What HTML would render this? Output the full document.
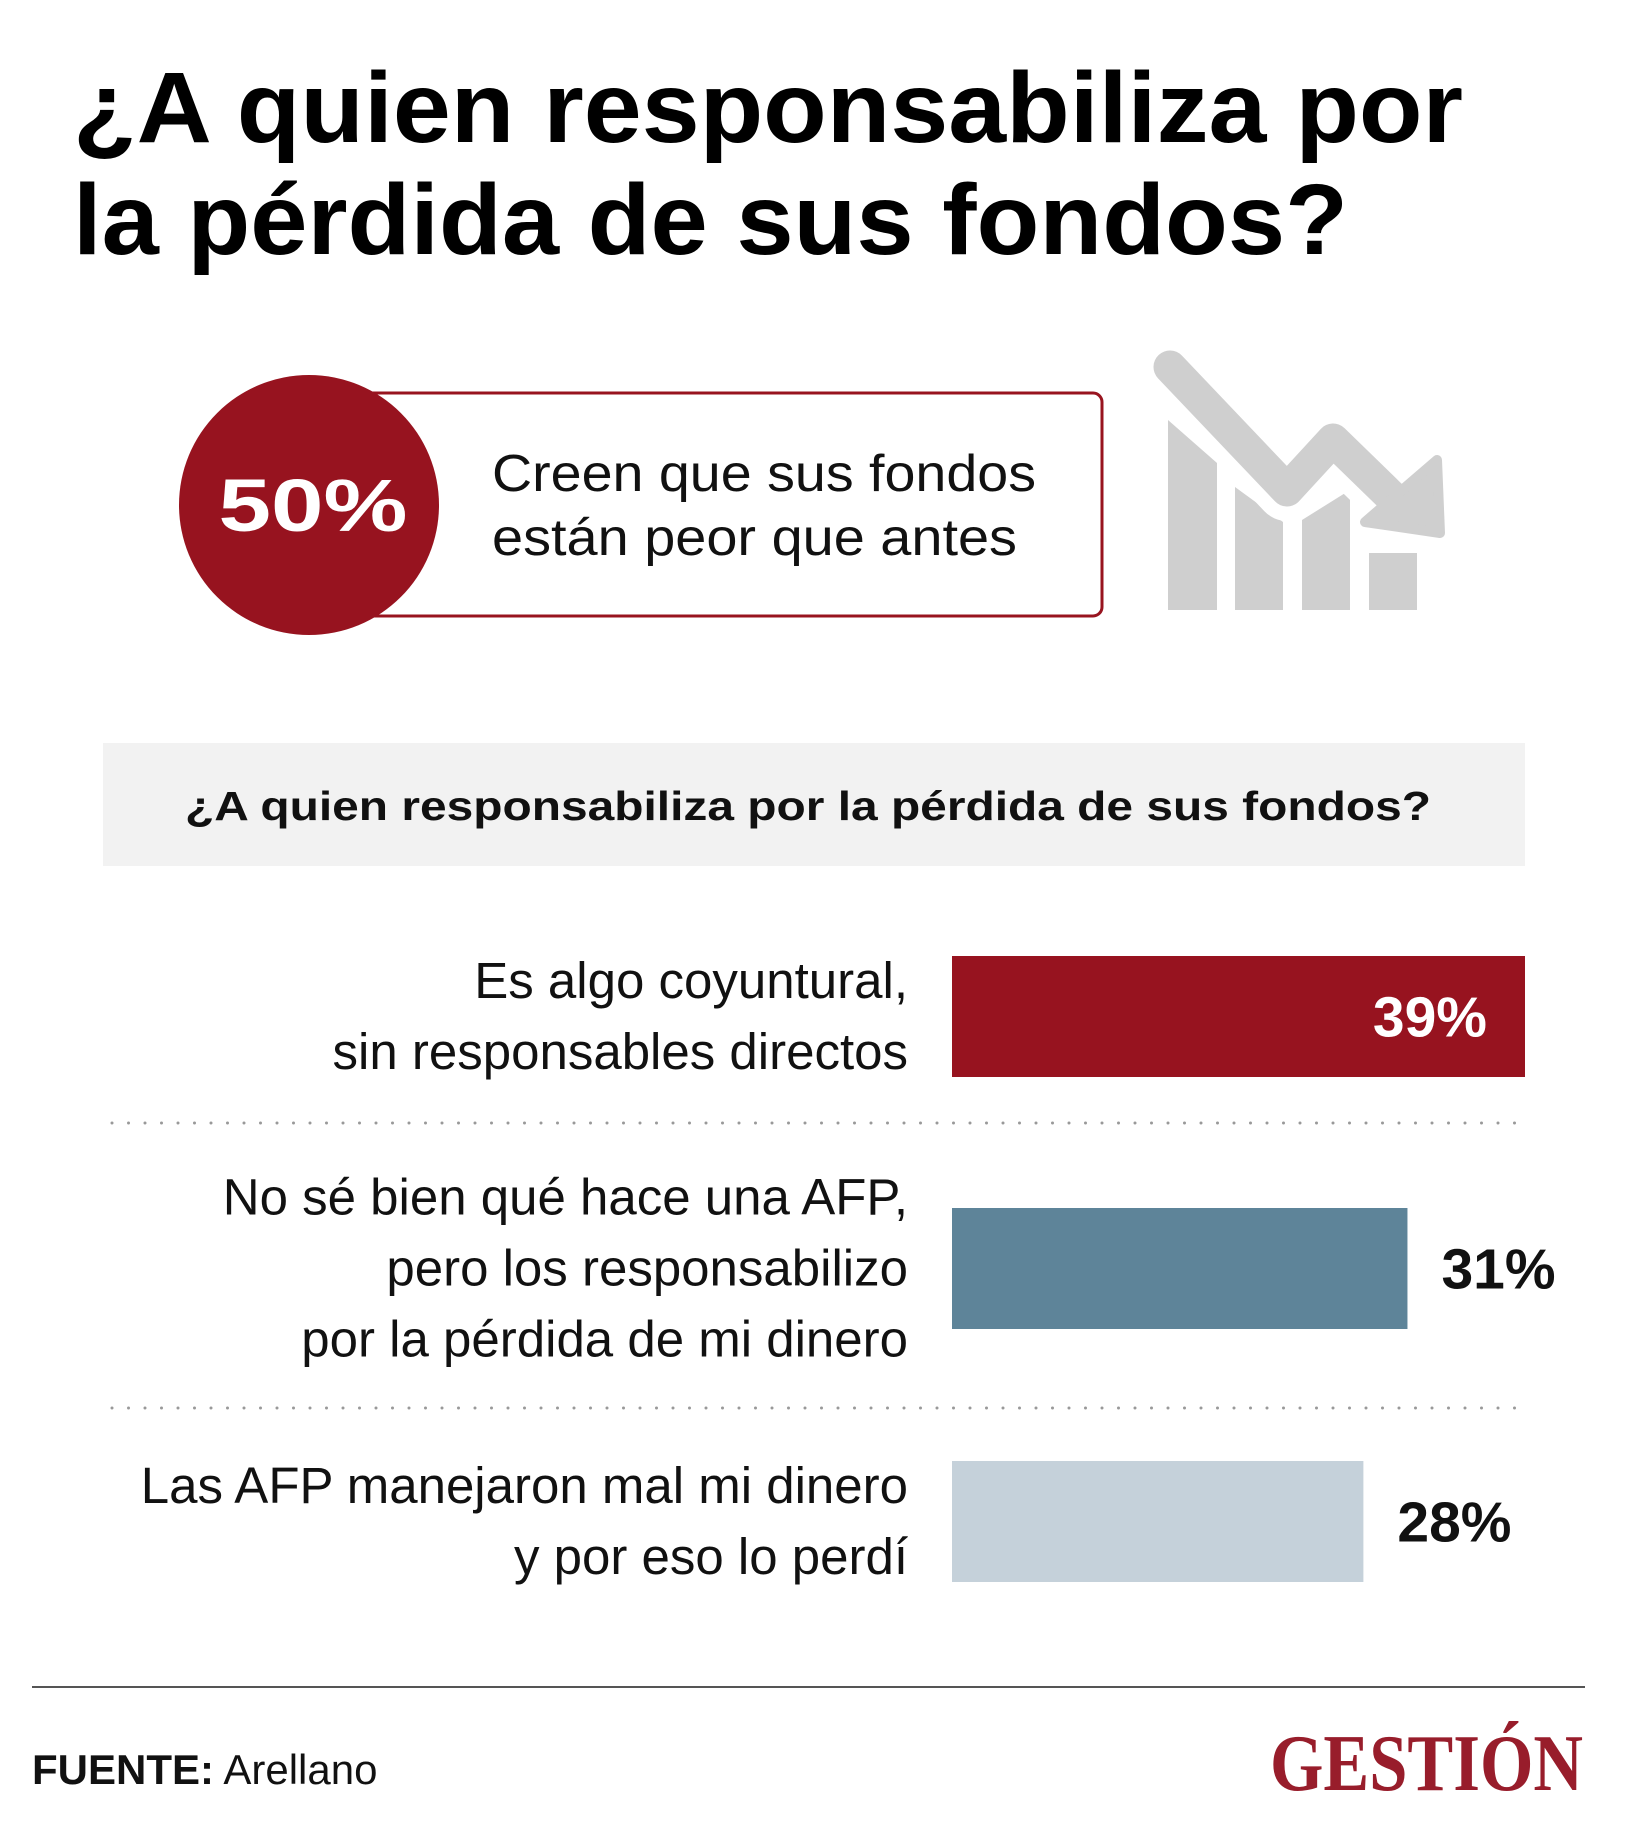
<!DOCTYPE html>
<html><head><meta charset="utf-8"><style>
html,body{margin:0;padding:0;background:#fff}
svg{display:block}
text{font-family:"Liberation Sans",sans-serif}
</style></head><body>
<svg id="chart" width="1628" height="1845" viewBox="0 0 1628 1845" xmlns="http://www.w3.org/2000/svg">
<text x="73" y="142" font-size="100" font-weight="bold" fill="#000" textLength="1390" lengthAdjust="spacingAndGlyphs">¿A quien responsabiliza por</text>
<text x="73" y="254" font-size="100" font-weight="bold" fill="#000" textLength="1275" lengthAdjust="spacingAndGlyphs">la pérdida de sus fondos?</text>

<rect x="340" y="393" width="762" height="223" rx="9" fill="#fff" stroke="#98141f" stroke-width="3"/>
<circle cx="309" cy="505" r="130" fill="#97131f"/>
<text x="313" y="531" font-size="74" font-weight="bold" fill="#fff" text-anchor="middle" textLength="189" lengthAdjust="spacingAndGlyphs">50%</text>
<text x="492" y="491" font-size="52" fill="#111" textLength="544" lengthAdjust="spacingAndGlyphs">Creen que sus fondos</text>
<text x="492" y="555" font-size="52" fill="#111" textLength="525" lengthAdjust="spacingAndGlyphs">están peor que antes</text>

<g fill="#cfcfcf">
<polygon points="1168,420 1217,463 1217,610 1168,610"/>
<polygon points="1235,487 1283,522 1283,610 1235,610"/>
<polygon points="1302,520 1350,490 1350,610 1302,610"/>
<rect x="1369" y="553" width="48" height="57"/>
<polyline points="1170,367 1287,490 1333,440 1415,520" fill="none" stroke="#fff" stroke-width="62" stroke-linejoin="round"/>
<polyline points="1170,367 1287,490 1333,440 1405,510" fill="none" stroke="#cfcfcf" stroke-width="33" stroke-linecap="round" stroke-linejoin="round"/>
<polygon points="1365,522 1437,460 1440,533" stroke="#cfcfcf" stroke-width="10" stroke-linejoin="round"/>
</g>

<rect x="103" y="743" width="1422" height="123" fill="#f2f2f2"/>
<text x="808" y="820" font-size="41" font-weight="bold" fill="#111" text-anchor="middle" textLength="1246" lengthAdjust="spacingAndGlyphs">¿A quien responsabiliza por la pérdida de sus fondos?</text>

<g id="bars"></g>

<line x1="32" y1="1687" x2="1585" y2="1687" stroke="#555" stroke-width="2"/>
<text x="32" y="1784" font-size="42" fill="#111"><tspan font-weight="bold">FUENTE:</tspan> Arellano</text>
<text x="1583" y="1790" font-size="80" font-weight="bold" fill="#981d2b" text-anchor="end" textLength="313" lengthAdjust="spacingAndGlyphs" style="font-family:'Liberation Serif',serif">GESTIÓN</text>
</svg>
<script>
const categories = [
  ["Es algo coyuntural,", "sin responsables directos"],
  ["No sé bien qué hace una AFP,", "pero los responsabilizo", "por la pérdida de mi dinero"],
  ["Las AFP manejaron mal mi dinero", "y por eso lo perdí"]
];
const values = [39, 31, 28];
const valueLabels = ["39%", "31%", "28%"];
const barColors = ["#97131f", "#5e8499", "#c5d1da"];

const NS = "http://www.w3.org/2000/svg";
const g = document.getElementById("bars");
const x0 = 952, pxPer = 573 / 39;
const rowTop = [956, 1208, 1461], barH = 121;
function xScale(v){ return x0 + v * pxPer; }
function mk(tag, attrs){ const e = document.createElementNS(NS, tag); for (const k in attrs) e.setAttribute(k, attrs[k]); g.appendChild(e); return e; }

values.forEach((v, i) => {
  const y = rowTop[i];
  const r = mk("rect", {x: x0, y: y, width: xScale(v) - x0, height: barH, fill: barColors[i]});
  
  
  const inside = i === 0;
  const t = mk("text", {x: inside ? xScale(v) - 38 : xScale(v) + 34, y: y + barH / 2 + 20, "font-size": 57, "font-weight": "bold", fill: inside ? "#fff" : "#111", "text-anchor": inside ? "end" : "start"});
  t.textContent = valueLabels[i];
  
  
  const lines = categories[i];
  const lh = 71;
  const firstBase = y + barH / 2 + 17 - (lines.length - 1) * lh / 2;
  lines.forEach((ln, j) => {
    const lt = mk("text", {x: 908, y: firstBase + j * lh, "font-size": 51, fill: "#111", "text-anchor": "end"});
    lt.textContent = ln;
    
    
  });
});
[1123, 1408].forEach((yy, k) => {
  const d = mk("line", {x1: 112, y1: yy, x2: 1522, y2: yy, stroke: "#999", "stroke-width": 3, "stroke-dasharray": "0 16.5", "stroke-linecap": "round"});
  
  
});
</script>
</body></html>
